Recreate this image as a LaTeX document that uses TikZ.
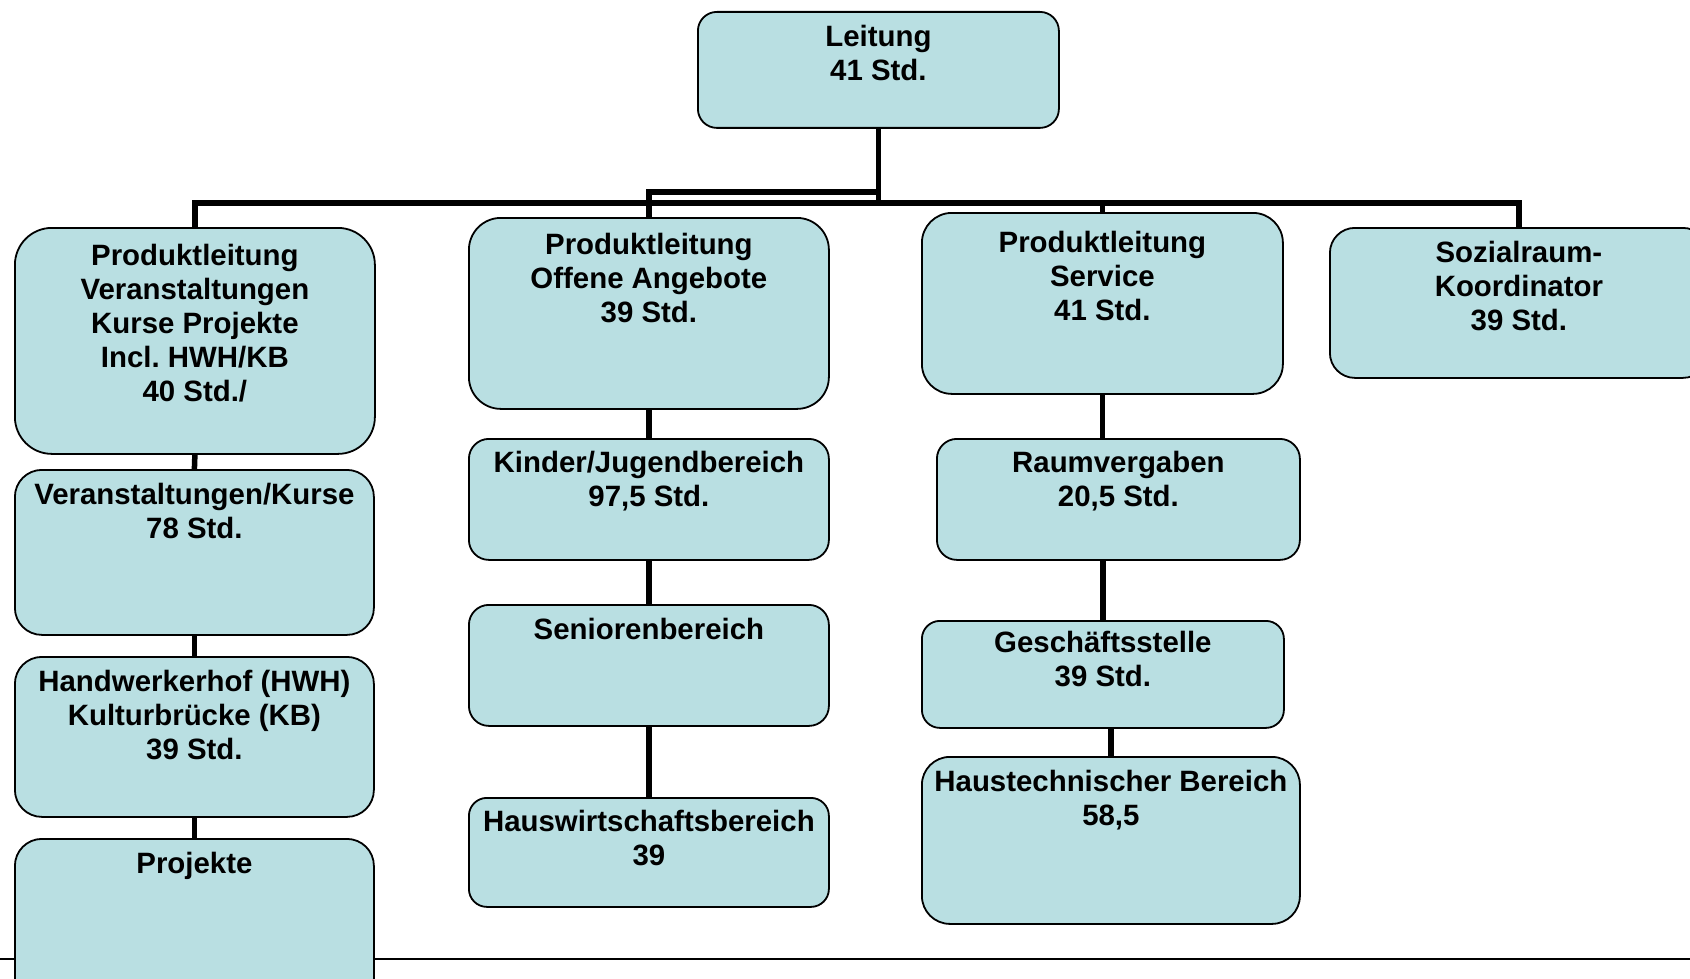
\documentclass[tikz,border=0pt]{standalone}
\usepackage{fontspec}
\setmainfont{Liberation Sans}
\frenchspacing
\definecolor{boxfill}{RGB}{185,223,226}
\tikzset{
  orgbox/.style={draw=black, line width=1.8pt, fill=boxfill, inner sep=0pt, anchor=north west},
  lbl/.style={font=\bfseries\fontsize{29.4}{34}\selectfont, align=center, inner sep=0pt, anchor=north},
  conn/.style={line width=5.5pt, line join=miter},
  sepline/.style={line width=2.3pt}
}
\begin{document}
\begin{tikzpicture}[x=1pt,y=-1pt]
\clip (0,0) rectangle (1690,979);
\useasboundingbox (0,0) rectangle (1690,979);
\fill[white] (0,0) rectangle (1690,979);
% separator line at the bottom
\draw[sepline] (0,959) -- (1690,959);

% boxes
\node[orgbox, minimum width=361pt, minimum height=116pt, rounded corners=19pt] (lt) at (697,11) {};
\node[orgbox, minimum width=360pt, minimum height=226pt, rounded corners=37pt] (pl1) at (14,227) {};
\node[orgbox, minimum width=359pt, minimum height=165pt, rounded corners=27pt] (vk) at (14,469) {};
\node[orgbox, minimum width=359pt, minimum height=160pt, rounded corners=27pt] (hwh) at (14,656) {};
\node[orgbox, minimum width=359pt, minimum height=167pt, rounded corners=27pt] (proj) at (14,838) {};
\node[orgbox, minimum width=360pt, minimum height=191pt, rounded corners=32pt] (pl2) at (468,217) {};
\node[orgbox, minimum width=360pt, minimum height=121pt, rounded corners=20pt] (kj) at (468,438) {};
\node[orgbox, minimum width=360pt, minimum height=121pt, rounded corners=20pt] (sen) at (468,604) {};
\node[orgbox, minimum width=360pt, minimum height=109pt, rounded corners=18pt] (hw) at (468,797) {};
\node[orgbox, minimum width=361pt, minimum height=181pt, rounded corners=30pt] (pl3) at (921,212) {};
\node[orgbox, minimum width=363pt, minimum height=121pt, rounded corners=20pt] (rv) at (936,438) {};
\node[orgbox, minimum width=362pt, minimum height=107pt, rounded corners=18pt] (gs) at (921,620) {};
\node[orgbox, minimum width=378pt, minimum height=167pt, rounded corners=28pt] (ht) at (921,756) {};
\node[orgbox, minimum width=378pt, minimum height=150pt, rounded corners=25pt] (sz) at (1329,227) {};

% connectors
\draw[conn] (lt.south) -- (lt.south |- 0,203) -| (pl1.north);
\draw[conn] (lt.south) -- (lt.south |- 0,192) -| (pl2.north);
\draw[conn] (lt.south) -- (lt.south |- 0,203) -| (pl3.north);
\draw[conn] (lt.south) -- (lt.south |- 0,203) -| (sz.north);
\draw[conn] (pl1.south) -- (vk.north);
\draw[conn] (vk.south) -- (hwh.north);
\draw[conn] (hwh.south) -- (proj.north);
\draw[conn] (pl2.south) -- (kj.north);
\draw[conn] (kj.south) -- (sen.north);
\draw[conn] (sen.south) -- (hw.north);
\draw[conn] (pl3.south) -- (pl3.south |- rv.north);
\draw[conn] (rv.south -| gs.north) -- (gs.north);
\draw[conn] (ht.north |- gs.south) -- (ht.north);

% labels
\node[lbl] (tlt) at ([yshift=-13.5pt]lt.north) {Leitung\\41 Std.};
\node[lbl] (tpl1) at ([yshift=-17pt]pl1.north) {Produktleitung\\Veranstaltungen\\Kurse Projekte\\Incl. HWH/KB\\40 Std./};
\node[lbl] (tvk) at ([yshift=-14pt]vk.north) {Veranstaltungen/Kurse\\78 Std.};
\node[lbl] (thwh) at ([yshift=-14pt]hwh.north) {Handwerkerhof (HWH)\\Kulturbrücke (KB)\\39 Std.};
\node[lbl] (tproj) at ([yshift=-14pt]proj.north) {Projekte};
\node[lbl] (tpl2) at ([yshift=-16pt]pl2.north) {Produktleitung\\Offene Angebote\\39 Std.};
\node[lbl] (tkj) at ([yshift=-13pt]kj.north) {Kinder/Jugendbereich\\97,5 Std.};
\node[lbl] (tsen) at ([yshift=-14pt]sen.north) {Seniorenbereich};
\node[lbl] (thw) at ([yshift=-13pt]hw.north) {Hauswirtschaftsbereich\\39};
\node[lbl] (tpl3) at ([yshift=-19pt]pl3.north) {Produktleitung\\Service\\41 Std.};
\node[lbl] (trv) at ([yshift=-13pt]rv.north) {Raumvergaben\\20,5 Std.};
\node[lbl] (tgs) at ([yshift=-11pt]gs.north) {Geschäftsstelle\\39 Std.};
\node[lbl] (tht) at ([yshift=-14pt]ht.north) {Haustechnischer Bereich\\58,5};
\node[lbl] (tsz) at ([yshift=-14pt]sz.north) {Sozialraum-\\Koordinator\\39 Std.};
\end{tikzpicture}
\end{document}
